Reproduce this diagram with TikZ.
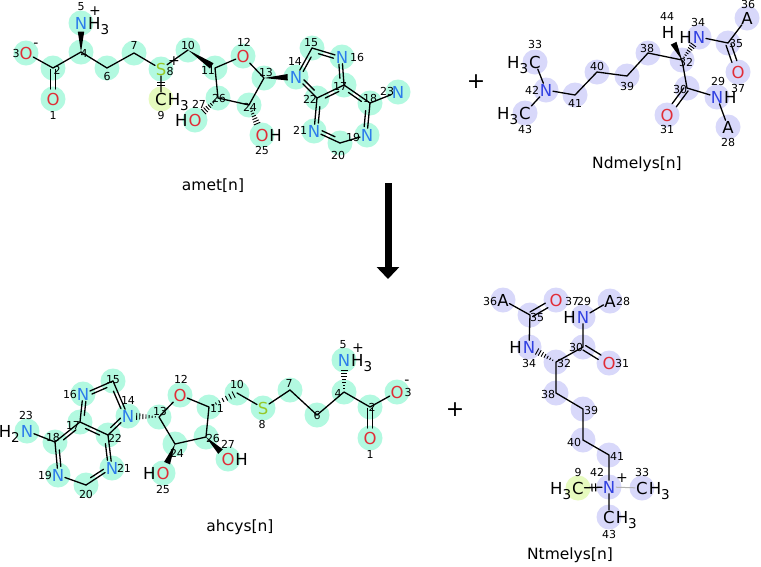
\documentclass[tikz,border=0pt]{standalone}
\usepackage{fontspec}
\setmainfont{DejaVu Sans}
\usetikzlibrary{calc,arrows.meta,backgrounds}
\definecolor{ocol}{RGB}{225,45,55}
\definecolor{ncol}{RGB}{45,125,235}
\definecolor{nmcol}{RGB}{50,65,225}
\definecolor{scol}{RGB}{150,200,40}
\definecolor{tq}{RGB}{178,249,224}
\definecolor{lav}{RGB}{216,216,250}
\definecolor{ylw}{RGB}{230,250,190}
\tikzset{
 bond/.style={line width=1.3pt, line cap=round},
 atm/.style={inner sep=0.6pt, font=\fontsize{16.5}{16.5}\selectfont},
 atO/.style={atm, text=ocol},
 atN/.style={atm, text=ncol},
 atNm/.style={atm, text=nmcol},
 atS/.style={atm, text=scol},
 atC/.style={atm, text=black},
 hpart/.style={inner sep=0pt, font=\fontsize{16.5}{16.5}\selectfont},
 numlbl/.style={inner sep=0pt, font=\fontsize{11}{11}\selectfont},
 chg/.style={inner sep=0pt, font=\fontsize{14}{14}\selectfont},
 ttl/.style={inner sep=0pt, font=\fontsize{15.5}{15.5}\selectfont},
 plussign/.style={inner sep=0pt, font=\fontsize{22}{22}\selectfont},
}
\newcommand\sbs[1]{\raisebox{-0.32em}{\fontsize{13.5}{13.5}\selectfont #1}}
\newcommand\arom[3]{\draw[bond] (#1) -- (#2);
 \draw[bond] let \p1=($(#1)!(#3)!(#2)$), \p2=($(\p1)!3.6pt!(#3)$) in
 ($(#1)!0.25!(#2)+(\x2-\x1,\y2-\y1)$) -- ($(#2)!0.25!(#1)+(\x2-\x1,\y2-\y1)$);}
\newcommand\wdg[4]{\fill let \p1=($(#1)!#3!(#2)$), \p2=($(#1)!#4!(#2)$) in
 (\p1) -- ($(\p2)!3.2pt!90:(\p1)$) -- ($(\p2)!3.2pt!-90:(\p1)$) -- cycle;}
\newcommand\hsh[4]{\foreach \k in {0,...,6}{\pgfmathsetmacro\hT{#3+(#4-#3)*\k/6}\pgfmathsetmacro\hW{0.7+2.8*\k/6}%
 \draw[line width=0.9pt] ($(#1)!\hT!(#2)!\hW pt!90:(#2)$) -- ($(#1)!\hT!(#2)!\hW pt!-90:(#2)$);}}
\newcommand\dblc[4]{\draw[bond] let \p1=($(#1)!#3!(#2)$), \p2=($(#2)!#4!(#1)$) in
 ($(\p1)!2.6pt!90:(\p2)$) -- ($(\p2)!2.6pt!-90:(\p1)$) ($(\p1)!2.6pt!-90:(\p2)$) -- ($(\p2)!2.6pt!90:(\p1)$);}
\newcommand\tck[3]{\draw[line width=1.1pt] ($(#1)!#3!(#2)!4pt!90:(#2)$) -- ($(#1)!#3!(#2)!4pt!-90:(#2)$);}
\begin{document}
\begin{tikzpicture}[x=1pt,y=-1pt]
\useasboundingbox (0,0) rectangle (761,566);
%%%%%%%%%%%%%%%% amet
\node[atO] (A1) at (53,99) {O};
\coordinate (A2) at (53,68);
\node[atO] (A3) at (26,53) {O};
\coordinate (A4) at (81,52);
\node[atN] (A5) at (81,23) {N};
\coordinate (A6) at (107,68);
\coordinate (A7) at (134,53);
\node[atS] (A8) at (161,69) {S};
\node[atC] (A9) at (161,99) {C};
\coordinate (A10) at (188,50);
\coordinate (A11) at (215,68);
\node[atO] (A12) at (243,56) {O};
\coordinate (A13) at (264,78);
\node[atN] (A14) at (296,77) {N};
\coordinate (A15) at (312,48);
\node[atN] (A16) at (342,57) {N};
\coordinate (A17) at (344,85);
\coordinate (A18) at (370,103);
\node[atN] (A19) at (367,135) {N};
\coordinate (A20) at (340,143);
\node[atN] (A21) at (314,131) {N};
\coordinate (A22) at (317,98);
\node[atN] (A23) at (398,92) {N};
\coordinate (A24) at (249,105);
\node[atO] (A25) at (262,135) {O};
\coordinate (A26) at (218,98);
\node[atO] (A27) at (195,120) {O};
\coordinate (A5c) at (322,73);
\coordinate (A6c) at (342,116);
\node[hpart, anchor=base west] (A5h) at (A5.base east) {H\sbs{3}};
\node[hpart, anchor=base west] (A9h) at (A9.base east) {H\sbs{3}};
\node[hpart, anchor=base west] (A25h) at (A25.base east) {H};
\node[hpart, anchor=base east] (A27h) at (A27.base west) {H};
\node[chg] (A5p) at (95,11) {+};
\node[chg] (A8p) at (174,61) {+};
\node[chg] (A3m) at (36,45) {-};
\foreach \n/\x/\y in {1/53/115,2/57/70,3/16/53,4/84/53,5/81/7,6/107/76,7/134/45,8/170/71,9/161/115,10/188/45,11/208/70,12/244/42,13/266/72,14/295/61,15/311/43,16/357/57,17/340/86,18/370/98,19/353/137,20/338/155,21/300/130,22/310/99,23/387/91,24/250/107,25/262/150,26/219/98,27/199/104}
  \node[numlbl] (nA\n) at (\x,\y) {\n};
\node[ttl] (tA) at (213,186) {amet[n]};
\dblc{A2}{A1}{0.05}{0.32}
\draw[bond] (A2) -- (A3) (A2) -- (A4) (A4) -- (A6) -- (A7) -- (A8) (A8) -- (A9) (A8) -- (A10);
\tck{A8}{A9}{0.45}\tck{A8}{A9}{0.55}
\wdg{A4}{A5}{0}{0.7}
\wdg{A10}{A11}{0}{0.88}
\draw[bond] (A11) -- (A12) -- (A13) (A13) -- (A24) -- (A26) -- (A11);
\wdg{A13}{A14}{0}{0.74}
\hsh{A26}{A27}{0.12}{0.62}
\hsh{A24}{A25}{0.12}{0.62}
\arom{A14}{A15}{A5c}\arom{A15}{A16}{A5c}\arom{A16}{A17}{A5c}\arom{A22}{A14}{A5c}
\arom{A17}{A22}{A6c}\arom{A17}{A18}{A6c}\arom{A18}{A19}{A6c}\arom{A20}{A21}{A6c}\arom{A21}{A22}{A6c}
\draw[bond] (A19) -- (A20) (A18) -- (A23);
%%%%%%%%%%%%%%%% Ndmelys
\node[atC] (D33) at (535,62) {C};
\node[atNm] (D42) at (546,90) {N};
\node[atC] (D43) at (525,113) {C};
\coordinate (D41) at (575,95);
\coordinate (D40) at (597,72);
\coordinate (D39) at (627,76);
\coordinate (D38) at (648,53);
\coordinate (D32) at (682,60);
\node[atC] (D44) at (668,32) {H};
\node[atNm] (D34) at (699,37) {N};
\coordinate (D35) at (728,43);
\node[atC] (D36) at (747,18) {A};
\node[atO] (D37) at (738,72) {O};
\coordinate (D30) at (687,88);
\node[atO] (D31) at (667,115) {O};
\node[atNm] (D29) at (717,97) {N};
\node[atC] (D28) at (728,127) {A};
\node[hpart, anchor=base east] (D33h) at (D33.base west) {H\sbs{3}};
\node[hpart, anchor=base east] (D43h) at (D43.base west) {H\sbs{3}};
\node[hpart, anchor=base east] (D34h) at (D34.base west) {H};
\node[hpart, anchor=base west] (D29h) at (D29.base east) {H};
\foreach \n/\x/\y in {33/535/44,42/532/90,43/525/129,41/575/103,40/597/66,39/627/86,38/647/48,32/686/62,44/667/16,34/698/22,35/736/43,36/748/4,37/738/88,30/680/89,31/667/129,29/718/81,28/728/142}
  \node[numlbl] (nD\n) at (\x,\y) {\n};
\node[ttl] (tD) at (637,164) {Ndmelys[n]};
\draw[bond] (D33) -- (D42) -- (D43) (D42) -- (D41) -- (D40) -- (D39) -- (D38) -- (D32) (D34) -- (D35) -- (D36) (D32) -- (D30) -- (D29) -- (D28);
\wdg{D32}{D44}{0}{0.6}
\hsh{D32}{D34}{0.12}{0.66}
\dblc{D35}{D37}{0.05}{0.36}
\dblc{D30}{D31}{0.05}{0.36}
%%%%%%%%%%%%%%%% ahcys
\node[atO] (H1) at (370,438) {O};
\coordinate (H2) at (370,407);
\node[atO] (H3) at (397,392) {O};
\coordinate (H4) at (344,392);
\node[atN] (H5) at (344,360) {N};
\coordinate (H6) at (317,415);
\coordinate (H7) at (290,390);
\node[atS] (H8) at (263,408) {S};
\coordinate (H10) at (237,393);
\coordinate (H11) at (209,407);
\node[atO] (H12) at (180,395) {O};
\coordinate (H13) at (159,417);
\node[atN] (H14) at (128,416) {N};
\coordinate (H15) at (113,381);
\node[atN] (H16) at (83,394) {N};
\coordinate (H17) at (80,422);
\coordinate (H18) at (55,442);
\node[atN] (H19) at (58,475) {N};
\coordinate (H20) at (86,485);
\node[atN] (H21) at (112,468) {N};
\coordinate (H22) at (108,435);
\node[atN] (H23) at (27,431) {N};
\coordinate (H24) at (175,444);
\node[atO] (H25) at (163,473) {O};
\coordinate (H26) at (206,437);
\node[atO] (H27) at (228,459) {O};
\coordinate (H5c) at (102,410);
\coordinate (H6c) at (83,454);
\node[hpart, anchor=base west] (H5h) at (H5.base east) {H\sbs{3}};
\node[hpart, anchor=base east] (H23h) at (H23.base west) {H\sbs{2}};
\node[hpart, anchor=base east] (H25h) at (H25.base west) {H};
\node[hpart, anchor=base west] (H27h) at (H27.base east) {H};
\node[chg] (H5p) at (358,348) {+};
\node[chg] (H3m) at (407,382) {-};
\foreach \n/\x/\y in {1/370/454,2/372/407,3/408/392,4/338/393,5/343/345,6/317/415,7/289/383,8/262/424,10/237/384,11/217/408,12/181/379,13/160/411,14/128/400,15/113/380,16/70/394,17/73/425,18/53/437,19/45/475,20/86/494,21/124/468,22/115/438,23/26/415,24/177/453,25/163/489,26/213/438,27/228/444}
  \node[numlbl] (nH\n) at (\x,\y) {\n};
\node[ttl] (tH) at (240,527) {ahcys[n]};
\dblc{H2}{H1}{0.05}{0.32}
\draw[bond] (H2) -- (H3) (H2) -- (H4) (H4) -- (H6) -- (H7) -- (H8) -- (H10) (H11) -- (H12) -- (H13) (H13) -- (H24) -- (H26) -- (H11);
\hsh{H4}{H5}{0.12}{0.68}
\hsh{H11}{H10}{0.12}{0.88}
\hsh{H13}{H14}{0.12}{0.72}
\wdg{H24}{H25}{0}{0.66}
\wdg{H26}{H27}{0}{0.66}
\arom{H14}{H15}{H5c}\arom{H15}{H16}{H5c}\arom{H16}{H17}{H5c}\arom{H22}{H14}{H5c}
\arom{H17}{H22}{H6c}\arom{H17}{H18}{H6c}\arom{H18}{H19}{H6c}\arom{H20}{H21}{H6c}\arom{H21}{H22}{H6c}
\draw[bond] (H19) -- (H20) (H18) -- (H23);
%%%%%%%%%%%%%%%% Ntmelys
\node[atC] (T36) at (503,300) {A};
\coordinate (T35) at (530,315);
\node[atO] (T37) at (556,300) {O};
\node[atNm] (T34) at (529,347) {N};
\coordinate (T32) at (556,362);
\coordinate (T30) at (583,347);
\node[atO] (T31) at (609,363) {O};
\node[atNm] (T29) at (583,317) {N};
\node[atC] (T28) at (610,301) {A};
\coordinate (T38) at (556,393);
\coordinate (T39) at (583,409);
\coordinate (T40) at (583,440);
\coordinate (T41) at (609,455);
\node[atNm] (T42) at (609,487) {N};
\node[atC] (T9) at (578,488) {C};
\node[atC] (T33) at (642,488) {C};
\node[atC] (T43) at (609,517) {C};
\node[hpart, anchor=base east] (T34h) at (T34.base west) {H};
\node[hpart, anchor=base east] (T29h) at (T29.base west) {H};
\node[hpart, anchor=base east] (T9h) at (T9.base west) {H\sbs{3}};
\node[hpart, anchor=base west] (T33h) at (T33.base east) {H\sbs{3}};
\node[hpart, anchor=base west] (T43h) at (T43.base east) {H\sbs{3}};
\node[chg] (T42p) at (622,478) {+};
\foreach \n/\x/\y in {36/490/301,35/537/317,37/572/301,29/584/301,34/529/363,32/564/363,30/576/347,31/622/363,28/623/301,38/548/394,39/591/410,40/574/442,41/617/456,42/597/472,9/578/472,33/642/472,43/609/534}
  \node[numlbl] (nT\n) at (\x,\y) {\n};
\node[ttl] (tT) at (570,555) {Ntmelys[n]};
\draw[bond] (T36) -- (T35) -- (T34) (T32) -- (T30) -- (T29) -- (T28) (T32) -- (T38) -- (T39) -- (T40) -- (T41) -- (T42) -- (T43) (T9) -- (T42);
\draw[line width=1pt, gray!60] (T42) -- (T33);
\tck{T9}{T42}{0.45}\tck{T9}{T42}{0.57}
\hsh{T32}{T34}{0.12}{0.7}
\dblc{T35}{T37}{0.05}{0.36}
\dblc{T30}{T31}{0.05}{0.36}
%%%%%%%%%%%%%%%% plus signs and arrow
\node[plussign] (plusA) at (476,82) {+};
\node[plussign] (plusB) at (455,410) {+};
\coordinate (arrS) at (388,183);
\coordinate (arrE) at (388,279);
\draw[line width=7pt, -{Triangle[width=22pt,length=12pt]}] (arrS) -- (arrE);
%%%%%%%%%%%%%%%% highlight circles
\begin{scope}[on background layer]
\fill[white] (0,0) rectangle (761,566);
\foreach \i in {1,...,8,10,11,...,27} \fill[tq] (A\i.center) circle (12.5);
\foreach \i in {1,...,8,10,11,...,27} \fill[tq] (H\i.center) circle (12.5);
\foreach \i in {28,...,43} \fill[lav] (D\i.center) circle (12.5);
\foreach \i in {28,...,43} \fill[lav] (T\i.center) circle (12.5);
\fill[ylw] (A9.center) circle (12.5);
\fill[ylw] (T9.center) circle (12.5);
\end{scope}
\end{tikzpicture}
\end{document}
